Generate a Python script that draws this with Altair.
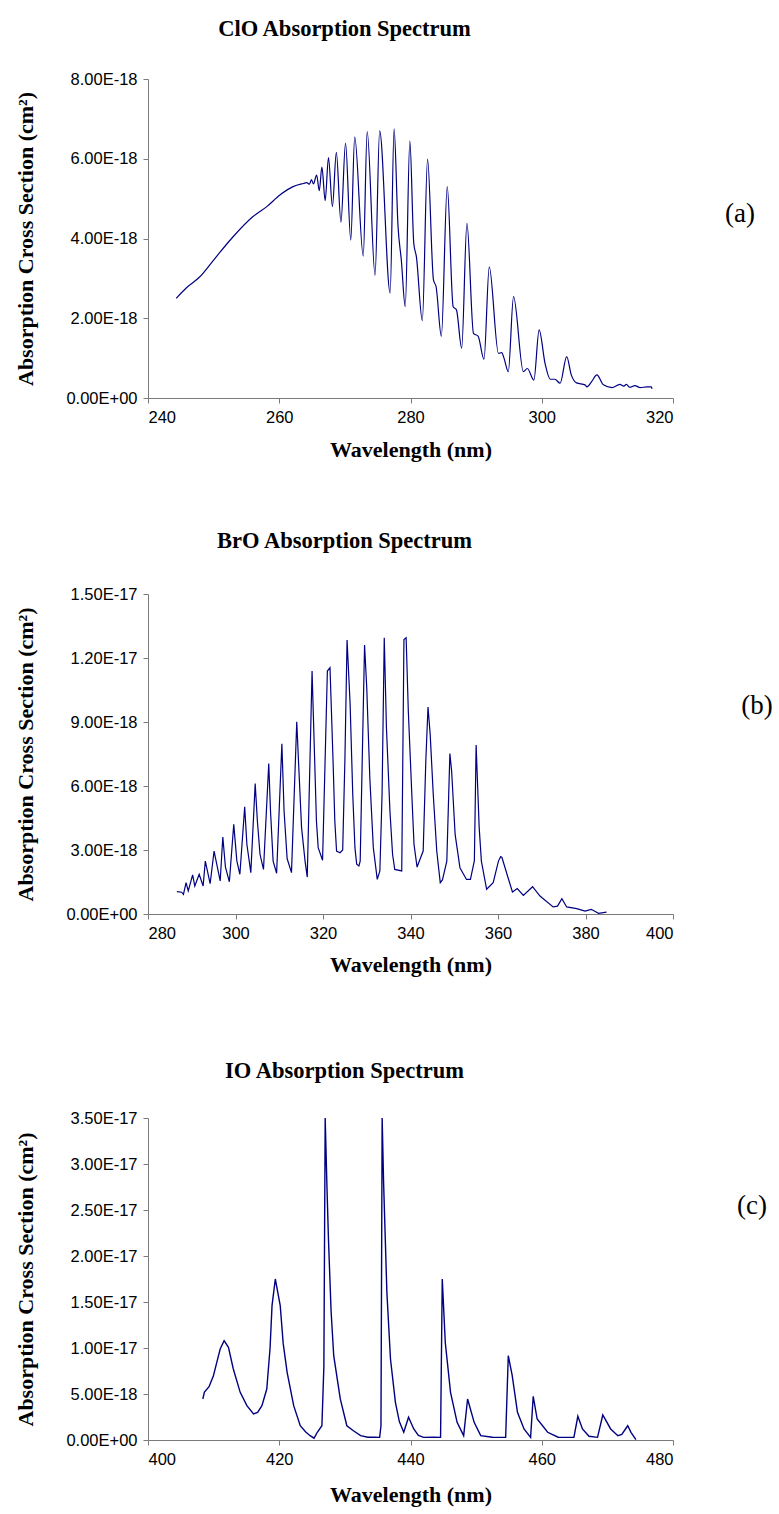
import altair as alt
import pandas as pd

# ---------------- data (cross sections in units of 1e-18 cm^2) ----------------
clo_wl = [244.3, 245.9, 247.9, 250.0, 253.0, 256.0, 258.1, 260.1, 262.1, 263.7,
          264.2, 264.6, 264.9, 265.2, 265.7, 266.1, 266.5, 267.0, 267.5, 268.1,
          268.7, 269.4, 270.1, 270.9, 271.5, 272.8, 273.4, 274.6, 275.3, 276.9,
          277.5, 278.1, 278.6, 279.2, 279.9, 280.5, 280.9, 281.8, 282.6, 283.5,
          283.9, 284.7, 285.6, 286.5, 287.0, 287.8, 288.6, 289.6, 290.3, 291.2,
          292.0, 293.4, 293.9, 294.25, 294.9, 295.7, 297.2, 297.8, 298.8, 299.6,
          300.5, 301.3, 302.0, 302.8, 303.8, 304.5, 305.3, 306.6, 306.9, 307.6,
          308.4, 309.4, 310.7, 311.9, 312.5, 312.9, 313.4, 314.2, 315.0, 316.0,
          316.7, 316.8]
clo_val = [2.50, 2.77, 3.04, 3.46, 4.05, 4.55, 4.80, 5.09, 5.30, 5.38,
           5.40, 5.36, 5.48, 5.37, 5.59, 5.20, 5.79, 4.95, 6.03, 4.80,
           6.16, 4.41, 6.39, 3.96, 6.55, 3.56, 6.68, 3.08, 6.70, 2.63,
           6.75, 4.30, 3.46, 2.29, 6.45, 3.88, 3.54, 1.94, 5.99, 2.96,
           2.79, 1.55, 5.30, 2.29, 2.21, 1.25, 4.38, 1.62, 1.55, 0.97,
           3.29, 1.12, 1.14, 1.00, 0.66, 2.54, 0.66, 0.74, 0.45, 1.71,
           0.87, 0.47, 0.47, 0.37, 1.04, 0.58, 0.38, 0.33, 0.28, 0.41,
           0.58, 0.33, 0.26, 0.34, 0.30, 0.34, 0.27, 0.31, 0.26, 0.28,
           0.28, 0.23]

bro_wl = [286.6, 287.7, 288.1, 288.7, 289.2, 290.2, 290.7, 291.7, 292.6, 293.1,
          294.2, 295.1, 296.5, 297.1, 297.7, 298.6, 299.6, 300.3, 301.0, 302.1,
          302.6, 303.5, 304.5, 305.0, 305.6, 306.4, 307.6, 308.0, 308.6, 309.4,
          310.6, 311.1, 311.8, 312.8, 314.0, 314.4, 315.1, 315.9, 316.4, 317.5,
          318.1, 318.5, 318.9, 319.9, 321.0, 321.6, 322.3, 322.7, 323.1, 323.9,
          324.5, 325.0, 325.5, 326.2, 326.8, 327.3, 327.7, 328.2, 328.5, 329.5,
          330.0, 330.7, 331.5, 332.4, 333.0, 333.5, 334.0, 334.5, 335.3, 335.9,
          336.4, 338.0, 338.5, 339.0, 339.5, 340.3, 340.8, 341.5, 342.9, 343.5,
          344.0, 344.5, 345.2, 346.0, 346.8, 347.3, 348.3, 349.0, 349.4, 350.2,
          351.3, 352.8, 353.7, 354.6, 355.0, 355.7, 356.2, 357.4, 358.9, 360.1,
          360.6, 360.9, 362.3, 363.3, 364.4, 365.8, 367.9, 369.6, 372.6, 373.6,
          374.6, 375.7, 378.0, 379.9, 381.3, 383.0, 384.8]
bro_val = [1.05, 1.02, 0.92, 1.47, 1.08, 1.83, 1.31, 1.86, 1.31, 2.48,
           1.42, 2.95, 1.55, 3.61, 2.20, 1.51, 4.20, 2.50, 1.86, 5.02,
           3.27, 1.94, 6.11, 4.36, 2.80, 2.09, 7.05, 4.83, 2.48, 1.91,
           7.98, 4.83, 2.60, 1.94, 9.01, 7.17, 4.05, 2.48, 1.73, 11.39,
           7.17, 4.36, 3.11, 2.52, 11.39, 11.55, 7.17, 4.36, 2.95, 2.87,
           3.00, 7.17, 12.84, 9.83, 5.61, 3.11, 2.33, 2.25, 2.48, 12.61,
           10.60, 6.39, 3.11, 1.62, 2.02, 5.61, 12.95, 8.73, 4.83, 2.80,
           2.09, 2.02, 12.87, 12.95, 9.52, 5.61, 3.27, 2.20, 2.95, 7.17,
           9.70, 8.42, 5.61, 2.95, 1.47, 1.60, 2.48, 7.52, 6.70, 3.73,
           2.17, 1.62, 1.62, 2.50, 7.92, 4.05, 2.48, 1.16, 1.47, 2.48,
           2.69, 2.65, 1.70, 1.03, 1.19, 0.87, 1.28, 0.84, 0.33, 0.37,
           0.72, 0.33, 0.25, 0.14, 0.22, 0.03, 0.09]

io_wl = [408.35, 408.6, 409.3, 409.97, 410.5, 411.0, 411.6, 412.26, 413.0, 414.05,
         415.07, 416.08, 416.7, 417.36, 418.1, 418.6, 418.9, 419.4, 420.15, 420.6,
         421.2, 422.2, 423.2, 424.0, 424.7, 425.3, 425.8, 426.5, 426.8, 427.0,
         427.25, 427.5, 427.9, 428.3, 429.3, 430.3, 431.3, 432.4, 433.5, 434.5,
         435.3, 435.5, 435.68, 435.9, 436.4, 436.95, 437.7, 438.3, 438.97, 439.7,
         440.5, 441.2, 442.0, 443.5, 444.58, 444.84, 445.3, 446.1, 447.1, 448.1,
         448.7, 449.7, 450.7, 452.5, 454.5, 454.9, 455.5, 456.3, 457.3, 458.3,
         458.7, 459.3, 460.9, 462.5, 464.9, 465.5, 466.2, 467.2, 468.5, 469.3,
         470.5, 471.6, 472.2, 473.1, 473.6, 474.35]
io_val = [4.46, 5.20, 5.80, 6.99, 8.50, 9.89, 10.80, 10.07, 7.72, 5.18,
          3.73, 2.83, 3.00, 3.73, 5.54, 10.00, 14.60, 17.50, 14.60, 10.50,
          7.36, 3.73, 1.55, 0.90, 0.47, 0.20, 0.84, 1.55, 8.00, 35.00,
          28.00, 21.80, 14.00, 9.16, 4.46, 1.55, 1.00, 0.47, 0.30, 0.30,
          0.29, 1.55, 35.00, 28.00, 16.05, 8.80, 4.10, 2.00, 0.84, 2.47,
          1.20, 0.50, 0.29, 0.30, 0.29, 17.50, 10.60, 5.18, 1.92, 0.47,
          4.46, 1.92, 0.47, 0.30, 0.29, 9.16, 6.99, 3.01, 1.20, 0.29,
          4.75, 2.28, 0.84, 0.30, 0.29, 2.58, 1.20, 0.40, 0.29, 2.72,
          1.20, 0.47, 0.60, 1.55, 0.84, 0.05]

titles = ["ClO Absorption Spectrum", "BrO Absorption Spectrum", "IO Absorption Spectrum"]
tags = ["(a)", "(b)", "(c)"]
x_ticks = [[240, 260, 280, 300, 320], [280, 300, 320, 340, 360, 380, 400], [400, 420, 440, 460, 480]]
y_ticks = [[0, 2, 4, 6, 8], [0, 3, 6, 9, 12, 15], [0, 5, 10, 15, 20, 25, 30, 35]]

LABEL_EXPR = ("datum.value == 0 ? '0.00E+00' : (datum.value < 9.99 ? "
              "format(datum.value, '.2f') + 'E-18' : format(datum.value / 10, '.2f') + 'E-17')")


def panel(wl, val, xt, yt, title, tag, tag_x, tag_y, height, interp, title_offset, sw, xtp):
    df = pd.DataFrame({"wl": wl, "val": val})
    line = alt.Chart(df).mark_line(color="#000080", strokeWidth=sw, interpolate=interp).encode(
        x=alt.X("wl:Q",
                scale=alt.Scale(domain=[xt[0], xt[-1]], nice=False, zero=False),
                axis=alt.Axis(values=xt, format="d", title="Wavelength (nm)",
                              labelPadding=6, titlePadding=xtp)),
        y=alt.Y("val:Q",
                scale=alt.Scale(domain=[yt[0], yt[-1]], nice=False, zero=False),
                axis=alt.Axis(values=yt, labelExpr=LABEL_EXPR,
                              title="Absorption Cross Section (cm²)",
                              labelPadding=6, titlePadding=28)),
    )
    tdf = pd.DataFrame({"t": [tag]})
    txt = alt.Chart(tdf).mark_text(font="Liberation Serif", fontSize=27, color="black").encode(
        text="t:N", x=alt.value(tag_x), y=alt.value(tag_y))
    return alt.layer(line, txt).properties(
        width=525, height=height,
        title=alt.TitleParams(title, anchor="middle", dx=-66, offset=title_offset))


pa = panel(clo_wl, clo_val, x_ticks[0], y_ticks[0], titles[0], tags[0], 592, 135, 319, "monotone", 31, 1.2, 14)
pb = panel(bro_wl, bro_val, x_ticks[1], y_ticks[1], titles[1], tags[1], 609, 112, 320, "linear", 34, 1.2, 13)
pc = panel(io_wl, io_val, x_ticks[2], y_ticks[2], titles[2], tags[2], 604, 88, 322, "linear", 28, 1.4, 17)

chart = alt.vconcat(alt.vconcat(pa, pb, spacing=68), pc, spacing=83).properties(
    padding={"left": 14, "top": 17, "right": 5, "bottom": 5}
).configure_view(stroke=None).configure_axis(
    grid=False,
    domainColor="#7a7a7a", tickColor="#7a7a7a", tickSize=5,
    labelFont="Liberation Sans", labelFontSize=16.5, labelColor="black",
    titleFont="Liberation Serif", titleFontSize=22, titleFontWeight="bold", titleColor="black",
).configure_title(
    font="Liberation Serif", fontSize=22.5, fontWeight="bold", color="black"
)

chart.save("out.html", embed_options={"renderer": "svg", "actions": False})
